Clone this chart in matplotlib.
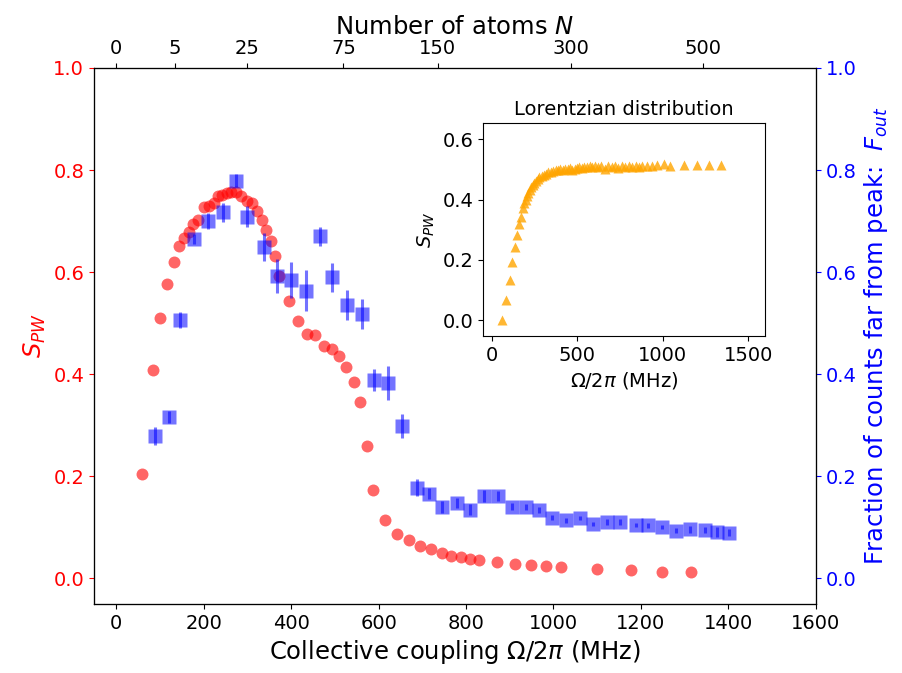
import numpy as np
import matplotlib
matplotlib.use("Agg")
import matplotlib.pyplot as plt

# S_PW (red circles)
omega_spw = [59, 85, 101, 117, 132, 144, 154, 166, 176, 187, 201, 213, 223, 233, 243,
             253, 262, 273, 286, 299, 311, 322, 333, 343, 353, 362, 372, 395, 415,
             436, 455, 475, 493, 509, 526, 544, 557, 573, 588, 615, 643, 670, 694,
             719, 744, 765, 788, 809, 830, 870, 911, 948, 984, 1017, 1099, 1177,
             1249, 1314]
spw = [0.204, 0.408, 0.511, 0.577, 0.620, 0.652, 0.666, 0.679, 0.694, 0.703, 0.727,
       0.729, 0.735, 0.749, 0.751, 0.755, 0.757, 0.758, 0.749, 0.740, 0.736, 0.719,
       0.703, 0.683, 0.661, 0.631, 0.592, 0.543, 0.505, 0.479, 0.476, 0.455, 0.449,
       0.436, 0.414, 0.385, 0.345, 0.260, 0.174, 0.115, 0.087, 0.076, 0.063, 0.058,
       0.050, 0.045, 0.042, 0.039, 0.037, 0.032, 0.029, 0.027, 0.024, 0.022, 0.019,
       0.016, 0.013, 0.012]

# F_out (blue squares with error bars)
omega_fout = [89, 121, 147, 178, 210, 244, 274, 300, 338, 367, 399, 435, 466, 494,
              527, 561, 589, 621, 654, 687, 715, 746, 779, 809, 841, 872, 905, 936,
              966, 997, 1029, 1061, 1090, 1122, 1153, 1188, 1217, 1249, 1280, 1312,
              1346, 1375, 1401]
fout = [0.279, 0.317, 0.506, 0.665, 0.700, 0.717, 0.779, 0.709, 0.649, 0.593, 0.584,
        0.564, 0.670, 0.590, 0.536, 0.518, 0.389, 0.383, 0.299, 0.178, 0.166, 0.140,
        0.148, 0.135, 0.161, 0.161, 0.141, 0.140, 0.135, 0.119, 0.114, 0.119, 0.107,
        0.111, 0.111, 0.104, 0.104, 0.100, 0.094, 0.096, 0.095, 0.091, 0.090]
fout_err = [0.018, 0.012, 0.016, 0.010, 0.015, 0.019, 0.013, 0.021, 0.028, 0.033,
            0.035, 0.041, 0.018, 0.028, 0.029, 0.029, 0.022, 0.034, 0.023, 0.016,
            0.011, 0.012, 0.010, 0.010, 0.012, 0.010, 0.006, 0.006, 0.006, 0.005,
            0.005, 0.004, 0.004, 0.006, 0.006, 0.004, 0.005, 0.004, 0.004, 0.006,
            0.005, 0.010, 0.006]

# inset: Lorentzian distribution
omega_lor = [58, 84, 104, 119, 133, 146, 158, 170, 180, 189, 197, 205, 213, 221, 229,
             238, 247, 257, 267, 278, 290, 303, 316, 330, 344, 358, 372, 386, 400,
             414, 428, 442, 456, 470, 484, 498, 512, 526, 540, 556, 572, 588, 604,
             622, 640, 660, 680, 700, 720, 740, 760, 780, 800, 820, 840, 860, 880,
             905, 935, 965, 1005, 1040, 1122, 1198, 1270, 1340]
spw_lor = [0.000, 0.066, 0.133, 0.194, 0.244, 0.281, 0.319, 0.342, 0.372, 0.389,
           0.400, 0.412, 0.422, 0.432, 0.440, 0.448, 0.455, 0.462, 0.468, 0.474,
           0.478, 0.481, 0.486, 0.490, 0.492, 0.494, 0.497, 0.499, 0.501, 0.499,
           0.503, 0.501, 0.504, 0.498, 0.503, 0.506, 0.508, 0.504, 0.509, 0.507,
           0.510, 0.508, 0.512, 0.508, 0.511, 0.503, 0.510, 0.508, 0.512, 0.506,
           0.513, 0.508, 0.511, 0.509, 0.512, 0.507, 0.510, 0.512, 0.513, 0.514,
           0.518, 0.512, 0.515, 0.515, 0.515, 0.515]

# top axis: number of atoms, Omega/2pi = g*sqrt(N)
g = 60.0
n_ticks = [0, 5, 25, 75, 150, 300, 500]

fig = plt.figure(figsize=(9.03, 6.73), dpi=100)
ax1 = fig.add_axes([0.104, 0.1025, 0.7995, 0.7965])

ax1.plot(omega_spw, spw, 'o', color='red', alpha=0.6, ms=8.6, mec='none')
ax1.set_xlim(-51, 1600)
ax1.set_ylim(-0.05, 1.0)
ax1.set_xticks(np.arange(0, 1601, 200))
ax1.set_yticks(np.arange(0, 1.01, 0.2))
ax1.set_xlabel(r'Collective coupling $\Omega/2\pi$ (MHz)', fontsize=17.5)
ax1.set_ylabel(r'$S_{PW}$', color='red', fontsize=17.5)
ax1.tick_params(axis='x', labelsize=14)
ax1.tick_params(axis='y', colors='red', labelsize=14)

ax2 = ax1.twinx()
ax2.errorbar(omega_fout, fout, yerr=fout_err, fmt='s', color='blue', alpha=0.55,
             ms=10, mec='none', elinewidth=2.2, capsize=0)
ax2.set_ylim(-0.05, 1.0)
ax2.set_yticks(np.arange(0, 1.01, 0.2))
ax2.set_ylabel(r'Fraction of counts far from peak:  $F_{out}$', color='blue', fontsize=17.5)
ax2.tick_params(axis='y', colors='blue', labelsize=14)

ax3 = ax1.twiny()
ax3.set_xlim(ax1.get_xlim())
ax3.set_xticks([g * np.sqrt(n) for n in n_ticks])
ax3.set_xticklabels([str(n) for n in n_ticks])
ax3.tick_params(axis='x', labelsize=14)
ax3.set_xlabel(r'Number of atoms $N$', fontsize=17.5)

axin = fig.add_axes([0.535, 0.5007, 0.312, 0.3165])
axin.plot(omega_lor, spw_lor, '^', color='orange', alpha=0.8, ms=7, mec='none')
axin.set_xlim(-52, 1597)
axin.set_ylim(-0.053, 0.654)
axin.set_xticks([0, 500, 1000, 1500])
axin.set_yticks([0.0, 0.2, 0.4, 0.6])
axin.tick_params(labelsize=14)
axin.set_xlabel(r'$\Omega/2\pi$ (MHz)', fontsize=14)
axin.set_ylabel(r'$S_{PW}$', fontsize=14)
axin.set_title('Lorentzian distribution', fontsize=14)

fig.savefig('out.png', dpi=100)
